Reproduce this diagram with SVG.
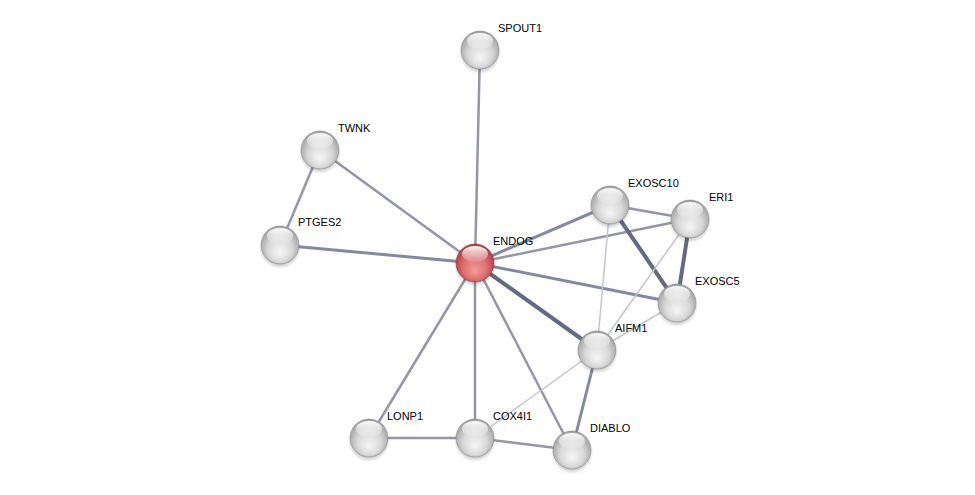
<svg xmlns="http://www.w3.org/2000/svg" width="975" height="495" viewBox="0 0 975 495">
<defs>
<radialGradient id="gball" cx="50%" cy="55%" r="58%" fx="50%" fy="72%">
<stop offset="0" stop-color="#f6f6f6"/>
<stop offset="0.55" stop-color="#d8d8d8"/>
<stop offset="0.9" stop-color="#a8a8a8"/>
<stop offset="1" stop-color="#8c8c8c"/>
</radialGradient>
<radialGradient id="rball" cx="50%" cy="55%" r="58%" fx="50%" fy="72%">
<stop offset="0" stop-color="#f29d9d"/>
<stop offset="0.55" stop-color="#dc6e6e"/>
<stop offset="0.9" stop-color="#b04545"/>
<stop offset="1" stop-color="#963333"/>
</radialGradient>
<linearGradient id="hl" x1="0" y1="0" x2="0" y2="1">
<stop offset="0" stop-color="#fff" stop-opacity="0.95"/>
<stop offset="1" stop-color="#fff" stop-opacity="0.1"/>
</linearGradient>
<radialGradient id="sh" cx="50%" cy="50%" r="50%">
<stop offset="0.65" stop-color="#000" stop-opacity="0.3"/>
<stop offset="1" stop-color="#000" stop-opacity="0"/>
</radialGradient>
<g id="ball">
<ellipse cx="0" cy="3" rx="21" ry="21" fill="url(#sh)"/>
<circle r="19" fill="url(#gball)" stroke="#8a8a8a" stroke-width="0.6"/>
<ellipse cx="0" cy="-9" rx="13" ry="8" fill="url(#hl)"/>
</g>
<g id="rballg">
<ellipse cx="0" cy="3" rx="21" ry="21" fill="url(#sh)"/>
<circle r="19" fill="url(#rball)" stroke="#8a3a3a" stroke-width="0.6"/>
<ellipse cx="0" cy="-9" rx="13" ry="8" fill="url(#hl)"/>
</g>
</defs>
<style>
.e{stroke:#9496a8;stroke-width:2.5;fill:none}
.m{stroke:#8589a0;stroke-width:3;fill:none}
.t{stroke:#646a84;stroke-width:4;fill:none}
.l{stroke:#c3c4d2;stroke-width:1.5;fill:none}
text{font-family:"Liberation Sans",Arial,sans-serif;font-size:11px;fill:#000}
</style>
<rect width="975" height="495" fill="#fff"/>
<g id="edges">
<line class="e" x1="475" y1="263" x2="480" y2="50"/>
<line class="e" x1="475" y1="263" x2="320" y2="150"/>
<line class="m" x1="475" y1="263" x2="280" y2="245"/>
<line class="e" x1="320" y1="150" x2="280" y2="245"/>
<line class="m" x1="475" y1="263" x2="610" y2="205"/>
<line class="e" x1="475" y1="263" x2="690" y2="219"/>
<line class="m" x1="475" y1="263" x2="677" y2="303"/>
<line class="t" x1="475" y1="263" x2="597" y2="350"/>
<line class="e" x1="475" y1="263" x2="369" y2="438"/>
<line class="e" x1="475" y1="263" x2="475" y2="438"/>
<line class="e" x1="475" y1="263" x2="572" y2="450"/>
<line class="e" x1="610" y1="205" x2="690" y2="219"/>
<line class="t" x1="610" y1="205" x2="677" y2="303"/>
<line class="t" x1="690" y1="219" x2="677" y2="303"/>
<line class="l" x1="610" y1="205" x2="597" y2="350"/>
<line class="l" x1="690" y1="219" x2="597" y2="350"/>
<line class="l" x1="677" y1="303" x2="597" y2="350"/>
<line class="m" x1="597" y1="350" x2="572" y2="450"/>
<line class="l" x1="597" y1="350" x2="475" y2="438"/>
<line class="e" x1="369" y1="438" x2="475" y2="438"/>
<line class="e" x1="475" y1="438" x2="572" y2="450"/>
</g>
<g id="SPOUT1"><use href="#ball" x="480" y="50"/><text x="498" y="32">SPOUT1</text></g>
<g id="TWNK"><use href="#ball" x="320" y="150"/><text x="338" y="132">TWNK</text></g>
<g id="PTGES2"><use href="#ball" x="280" y="245"/><text x="298" y="226">PTGES2</text></g>
<g id="ENDOG"><use href="#rballg" x="475" y="263"/><text x="493" y="245">ENDOG</text></g>
<g id="EXOSC10"><use href="#ball" x="610" y="205"/><text x="628" y="187">EXOSC10</text></g>
<g id="ERI1"><use href="#ball" x="690" y="219"/><text x="709" y="201">ERI1</text></g>
<g id="EXOSC5"><use href="#ball" x="677" y="303"/><text x="695" y="285">EXOSC5</text></g>
<g id="AIFM1"><use href="#ball" x="597" y="350"/><text x="615" y="332">AIFM1</text></g>
<g id="LONP1"><use href="#ball" x="369" y="438"/><text x="387" y="420">LONP1</text></g>
<g id="COX4I1"><use href="#ball" x="475" y="438"/><text x="493" y="420">COX4I1</text></g>
<g id="DIABLO"><use href="#ball" x="572" y="450"/><text x="590" y="432">DIABLO</text></g>
</svg>
